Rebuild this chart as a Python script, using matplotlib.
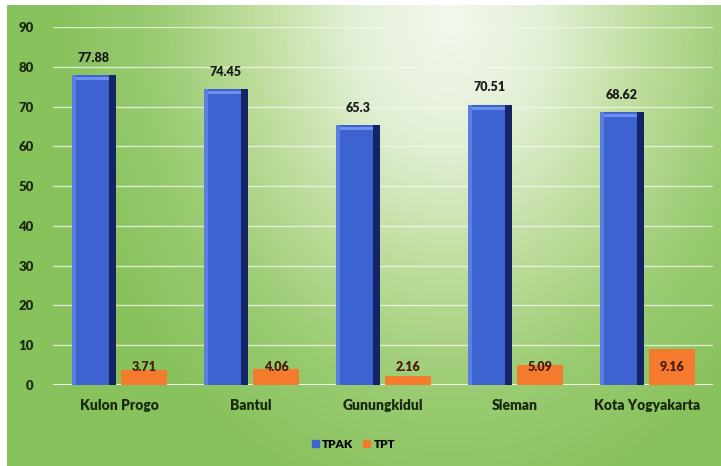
import numpy as np
import matplotlib
matplotlib.use('Agg')
import matplotlib.pyplot as plt
from matplotlib.colors import LinearSegmentedColormap

# data
regions = ['Kulon Progo', 'Bantul', 'Gunungkidul', 'Sleman', 'Kota Yogyakarta']
tpak = [77.88, 74.45, 65.3, 70.51, 68.62]
tpt = [3.71, 4.06, 2.16, 5.09, 9.16]
tpak_labels = ['77.88', '74.45', '65.3', '70.51', '68.62']
tpt_labels = ['3.71', '4.06', '2.16', '5.09', '9.16']
yticks = [0, 10, 20, 30, 40, 50, 60, 70, 80, 90]

plt.rcParams['font.family'] = ['Lato', 'DejaVu Sans']

fig = plt.figure(figsize=(7.21, 4.66), dpi=100)

# green background, pale near the top centre, greener towards the edges
bg = fig.add_axes([7 / 721, 0, 1 - 7 / 721, 1 - 5 / 466])
bg.axis('off')
yy, xx = np.mgrid[1:0:240j, 0:1:360j]
d = np.sqrt(((xx - 0.62) / 0.48) ** 2 + ((yy - 0.97) / 0.95) ** 2)
d = np.clip(d / 1.15, 0, 1)
green = LinearSegmentedColormap.from_list(
    'g', ['#f3f8ee', '#e2efd4', '#bedd9c', '#9acb72', '#88c25c'])
bg.imshow(d, cmap=green, aspect='auto', origin='upper', extent=[0, 1, 0, 1])

ax = fig.add_axes([53 / 721, (466 - 385) / 466, 660 / 721, 358 / 466])
ax.set_facecolor('none')
x = np.arange(len(regions))
w = 0.33
off = 0.19

# blue bars with a simple bevel look
ax.bar(x - off, tpak, width=w, color='#3d63d0', zorder=3)
ax.bar(x - off + w * 0.42, tpak, width=w * 0.16, color='#152466', zorder=4)
ax.bar(x - off - w * 0.46, tpak, width=w * 0.08, color='#5b7fe0', zorder=4)
ax.bar(x - off - w * 0.04, [0.8] * len(x), bottom=np.array(tpak) - 1.3, width=w * 0.76,
       color='#6f8fee', zorder=4)
ax.bar(x + off, tpt, width=w * 1.05, color='#f47b2e', zorder=3)

for i in range(len(x)):
    ax.text(x[i] - off, tpak[i] + 2.8, tpak_labels[i], ha='center', va='bottom',
            fontsize=9, fontweight='heavy', color='#1c1c1c', zorder=5)
    ax.text(x[i] + off, 4.6, tpt_labels[i], ha='center', va='center',
            fontsize=9, fontweight='heavy', color='#4a1a0c', zorder=5)

ax.set_xlim(-0.5, len(regions) - 0.5)
ax.set_ylim(0, 90)
ax.set_yticks(yticks)
ax.set_xticks(x)
ax.set_xticklabels(regions, fontsize=10, fontweight='heavy', color='#1a2a10')
for lab in ax.get_yticklabels():
    lab.set_fontweight('heavy')
    lab.set_fontsize(9.5)
    lab.set_color('#1a2a10')
ax.tick_params(axis='y', length=0, pad=14)
ax.tick_params(axis='x', length=0, pad=10)
ax.grid(axis='y', color='#f4f9ee', linewidth=1, alpha=0.75, zorder=0)
for s in ax.spines.values():
    s.set_visible(False)
ax.axhline(0, color='#eef6e4', linewidth=1.5, zorder=2)

h1 = plt.Rectangle((0, 0), 1, 1, color='#3d63d0')
h2 = plt.Rectangle((0, 0), 1, 1, color='#f47b2e')
fig.legend([h1, h2], ['TPAK', 'TPT'], loc='center', bbox_to_anchor=(0.49, 1 - 444 / 466),
           ncol=2, frameon=False, handlelength=0.6, handleheight=0.6, handletextpad=0.3,
           columnspacing=0.8, prop={'size': 8.5, 'weight': 'heavy'})

fig.savefig('out.png', dpi=100)
